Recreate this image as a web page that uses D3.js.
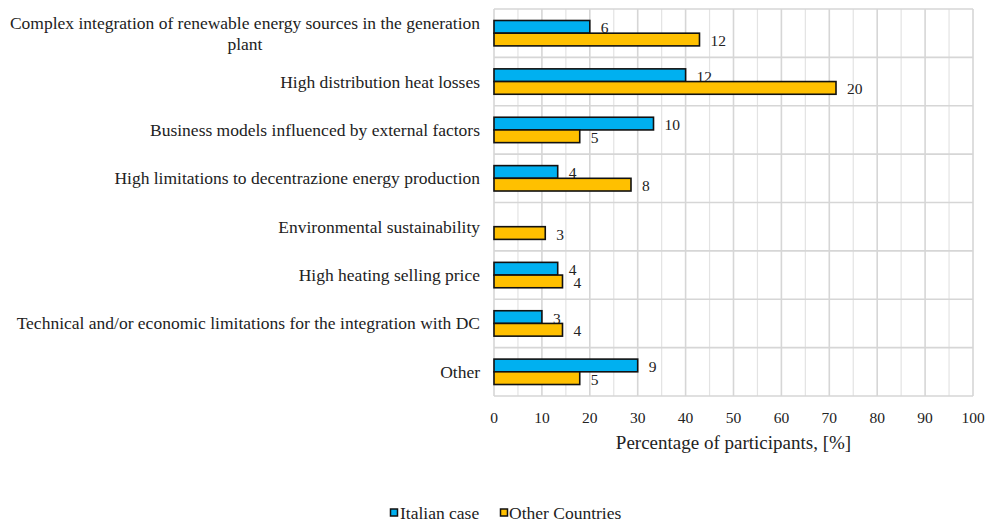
<!DOCTYPE html>
<html>
<head>
<meta charset="utf-8">
<script src="https://cdn.jsdelivr.net/npm/d3@7"></script>
<style>
  html, body { margin: 0; padding: 0; background: #fff; }
  svg { display: block; }
</style>
</head>
<body>
<svg id="chart" width="989" height="525" font-family="'Liberation Serif', Tinos, 'Times New Roman', Times, 'DejaVu Serif', serif"></svg>
<script>
// ---- data ----
const categories = [
  ["Complex integration of renewable energy sources in the generation", "plant"],
  ["High distribution heat losses"],
  ["Business models influenced by external factors"],
  ["High limitations to decentrazione energy production"],
  ["Environmental sustainability"],
  ["High heating selling price"],
  ["Technical and/or economic limitations for the integration with DC"],
  ["Other"]
];
const seriesNames = ["Italian case", "Other Countries"];
const italianPct = [20, 40, 33.3, 13.3, 0, 13.3, 10, 30];
const otherPct = [42.9, 71.4, 17.9, 28.6, 10.7, 14.3, 14.3, 17.9];
const italianCount = [6, 12, 10, 4, null, 4, 3, 9];
const otherCount = [12, 20, 5, 8, 3, 4, 4, 5];
const xTicks = [0, 10, 20, 30, 40, 50, 60, 70, 80, 90, 100];
const xMinorTicks = [5, 15, 25, 35, 45, 55, 65, 75, 85, 95];
const xTitle = "Percentage of participants, [%]";
const colors = ["#00B0F0", "#FFC000"];

// ---- layout ----
const svg = d3.select("#chart");
const plot = { left: 494, right: 973, top: 9, bottom: 396 };
const FONT = "'Liberation Serif', Tinos, 'Times New Roman', Times, 'DejaVu Serif', serif";
const INK = "#222";

const x = d3.scaleLinear().domain([0, 100]).range([plot.left, plot.right]);
const y = d3.scaleBand().domain(d3.range(categories.length)).range([plot.top, plot.bottom]).paddingInner(0).paddingOuter(0);
const barH = 12.7;
const sub = d3.scaleBand().domain([0, 1]).range([y.bandwidth() / 2 - barH, y.bandwidth() / 2 + barH]);

// gridlines
const grid = svg.append("g");
grid.selectAll("line.minor").data(xMinorTicks).join("line")
  .attr("x1", d => x(d)).attr("x2", d => x(d))
  .attr("y1", plot.top).attr("y2", plot.bottom)
  .attr("stroke", "#e3e3e3").attr("stroke-width", 1.2);
grid.selectAll("line.major").data(xTicks).join("line")
  .attr("x1", d => x(d)).attr("x2", d => x(d))
  .attr("y1", plot.top).attr("y2", plot.bottom)
  .attr("stroke", "#d6d6d6").attr("stroke-width", 1.6);
grid.selectAll("line.h").data(d3.range(categories.length + 1)).join("line")
  .attr("x1", plot.left).attr("x2", plot.right)
  .attr("y1", d => plot.top + d * y.step()).attr("y2", d => plot.top + d * y.step())
  .attr("stroke", "#d6d6d6").attr("stroke-width", 1.6);

// bars
const series = [
  { pct: italianPct, cnt: italianCount },
  { pct: otherPct, cnt: otherCount }
];
series.forEach((s, si) => {
  const g = svg.append("g");
  const rows = s.pct.map((v, i) => ({ v, i, c: s.cnt[i] })).filter(d => d.v > 0);
  g.selectAll("rect").data(rows).join("rect")
    .attr("x", x(0))
    .attr("y", d => y(d.i) + sub(si))
    .attr("width", d => x(d.v) - x(0))
    .attr("height", barH)
    .attr("fill", colors[si])
    .attr("stroke", "#111")
    .attr("stroke-width", 1.6);
  g.selectAll("text").data(rows.filter(d => d.c != null)).join("text")
    .attr("x", d => x(d.v) + 11)
    .attr("y", d => y(d.i) + sub(si) + barH / 2 + 6.5)
    .attr("font-family", FONT).attr("fill", INK)
    .attr("font-size", 15.5)
    .text(d => d.c);
});

// x axis labels
svg.append("g").selectAll("text").data(xTicks).join("text")
  .attr("x", d => x(d)).attr("y", 423)
  .attr("text-anchor", "middle").attr("font-size", 15.5)
  .attr("font-family", FONT).attr("fill", INK)
  .text(d => d);
svg.append("text")
  .attr("x", (plot.left + plot.right) / 2).attr("y", 449)
  .attr("text-anchor", "middle").attr("font-size", 19)
  .attr("font-family", FONT).attr("fill", INK)
  .text(xTitle);

// category labels (multi-line, block right-aligned, lines centered)
const catG = svg.append("g");
categories.forEach((lines, i) => {
  const cy = y(i) + y.bandwidth() / 2;
  const lh = 21;
  const t = catG.append("text").attr("font-size", 17.5)
    .attr("font-family", FONT).attr("fill", INK);
  const spans = lines.map((ln, k) => t.append("tspan").text(ln)
    .attr("y", cy + 6 + (k - (lines.length - 1) / 2) * lh));
  const widths = spans.map(sp => sp.node().getComputedTextLength());
  const maxW = d3.max(widths);
  const right = 480;
  spans.forEach(sp => sp.attr("x", right - maxW / 2).attr("text-anchor", "middle"));
});

// legend
const legend = svg.append("g");
const legendItems = [
  { name: seriesNames[0], color: colors[0], mx: 390.5, tx: 400 },
  { name: seriesNames[1], color: colors[1], mx: 500.5, tx: 509 }
];
legendItems.forEach(it => {
  legend.append("rect").attr("x", it.mx).attr("y", 509).attr("width", 7).attr("height", 7)
    .attr("fill", it.color).attr("stroke", "#111").attr("stroke-width", 1.5);
  legend.append("text").attr("x", it.tx).attr("y", 519).attr("font-size", 17.5)
    .attr("font-family", FONT).attr("fill", INK).text(it.name);
});
</script>
</body>
</html>
